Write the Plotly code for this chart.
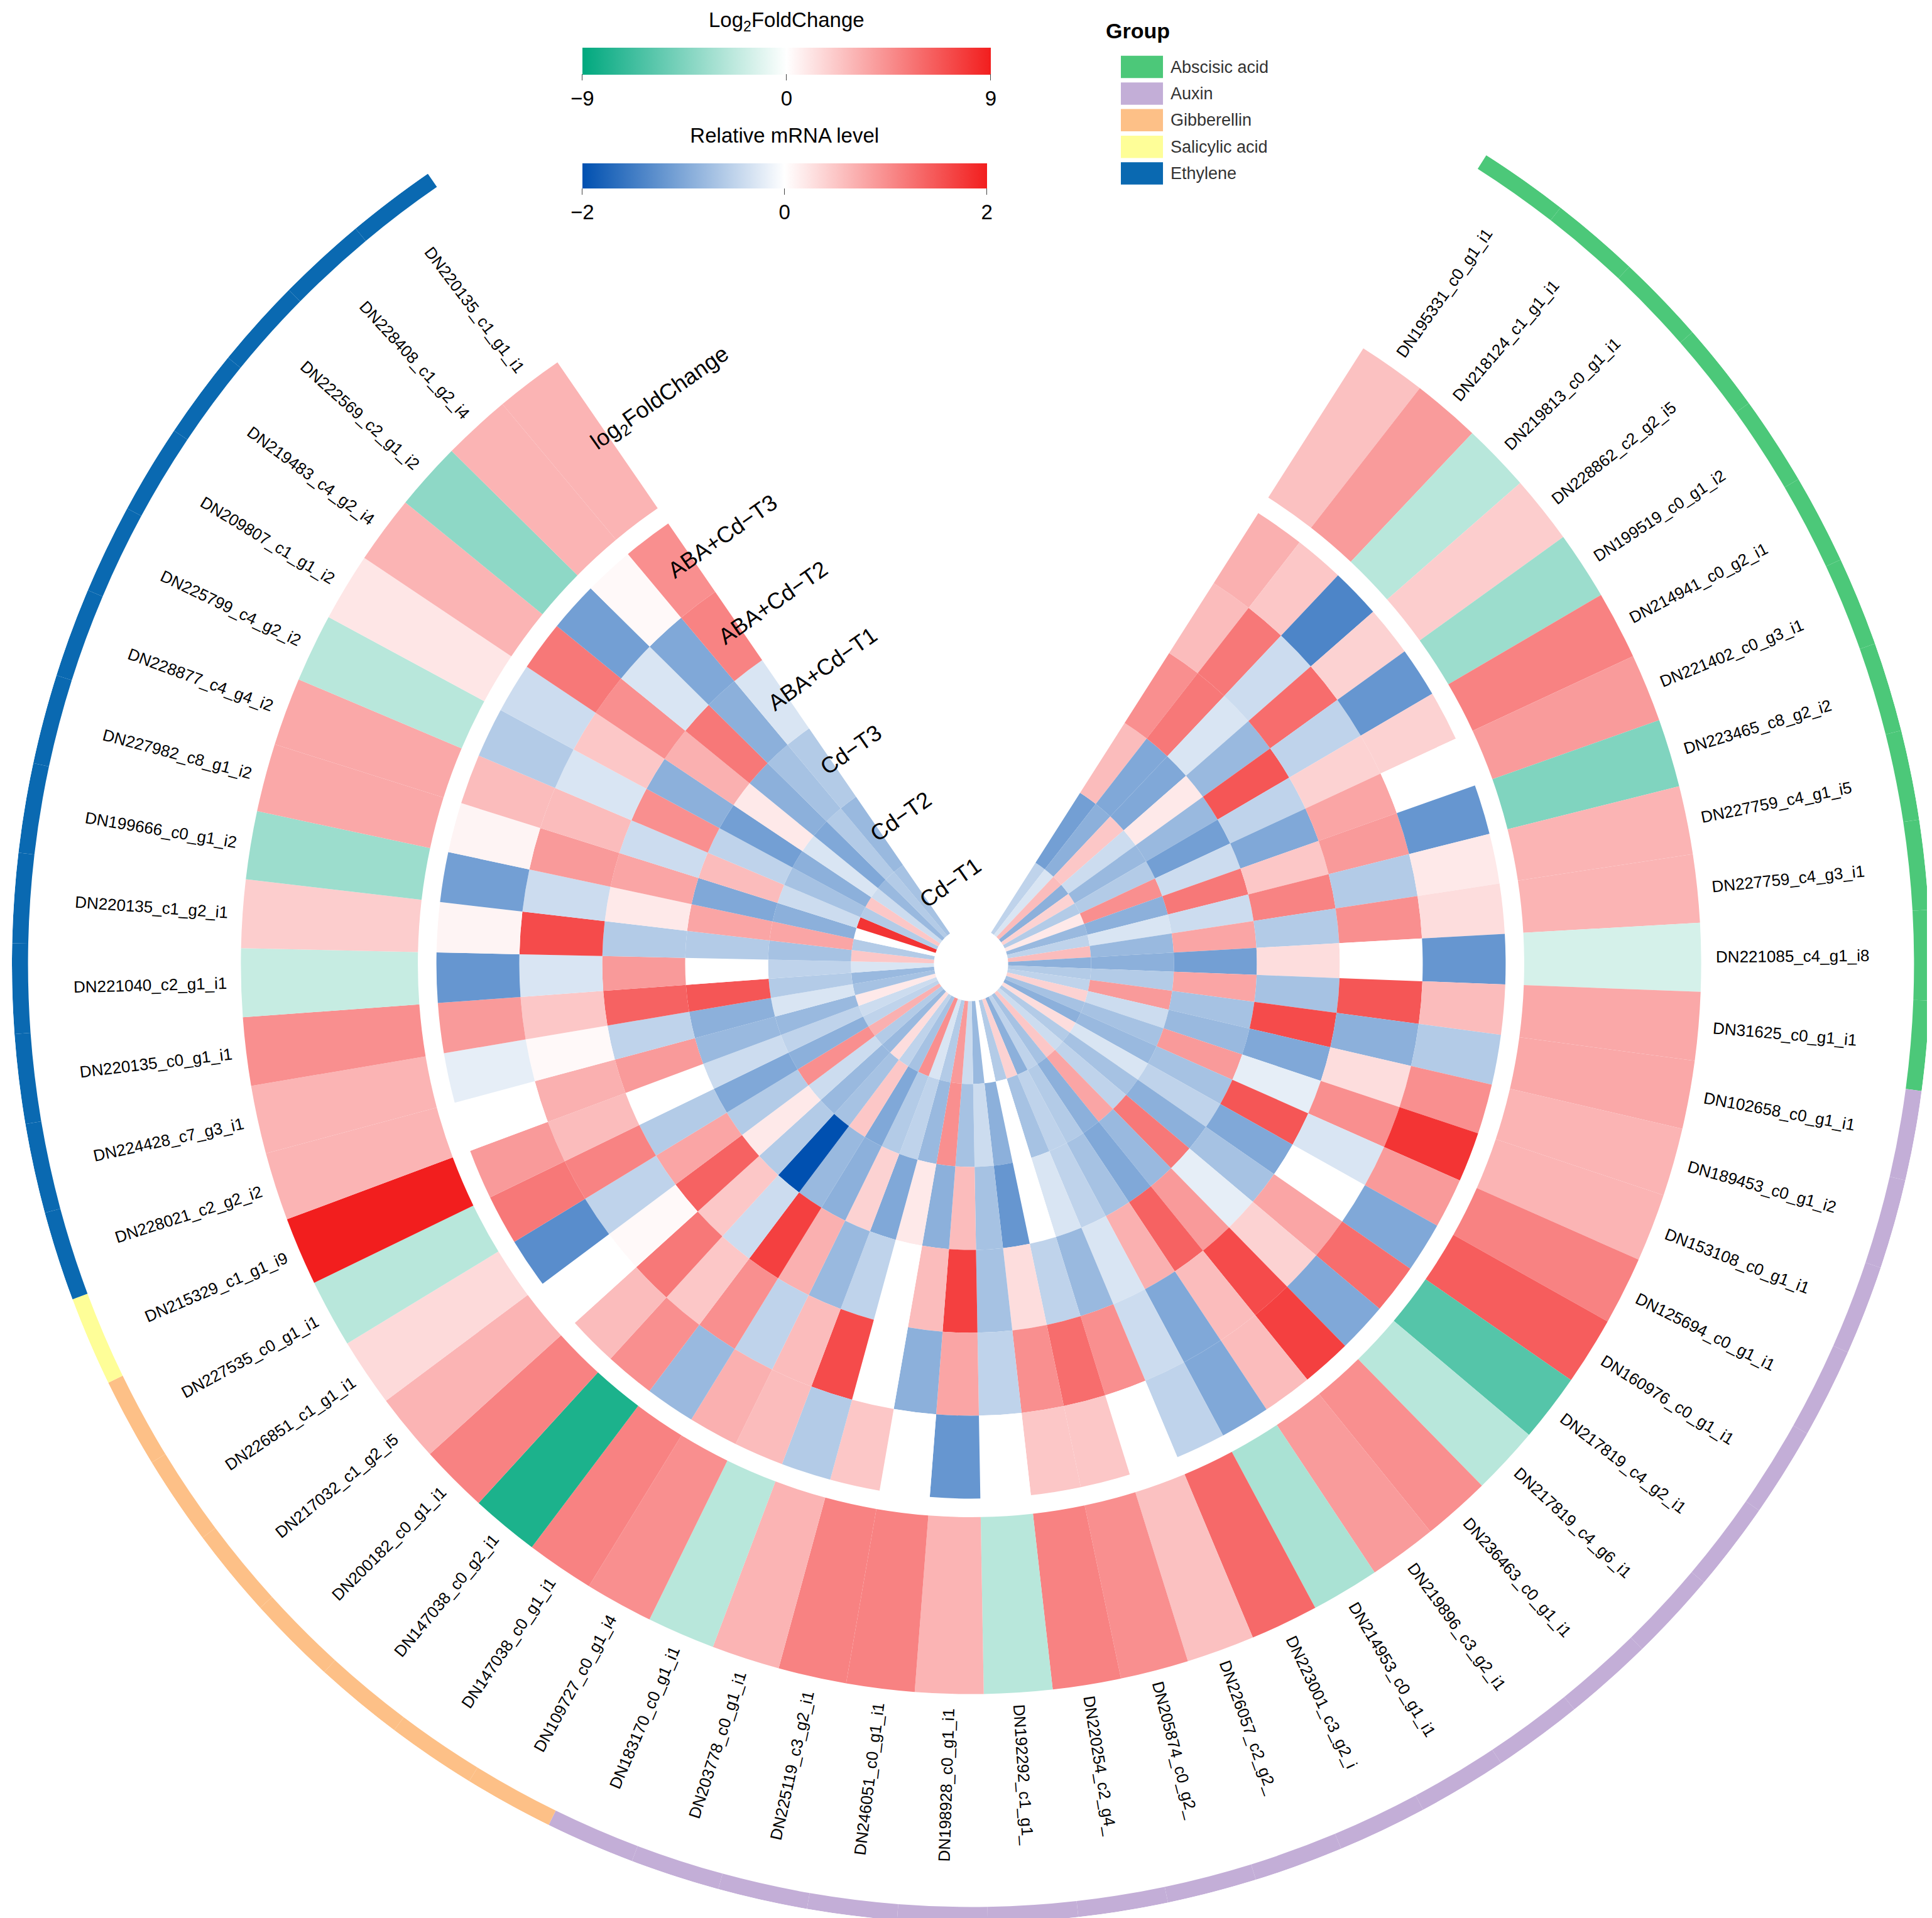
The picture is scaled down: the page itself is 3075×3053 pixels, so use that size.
import math
import plotly.graph_objects as go

genes = ["DN195331_c0_g1_i1","DN218124_c1_g1_i1","DN219813_c0_g1_i1","DN228862_c2_g2_i5","DN199519_c0_g1_i2",
 "DN214941_c0_g2_i1","DN221402_c0_g3_i1","DN223465_c8_g2_i2","DN227759_c4_g1_i5","DN227759_c4_g3_i1",
 "DN221085_c4_g1_i8","DN31625_c0_g1_i1","DN102658_c0_g1_i1","DN189453_c0_g1_i2","DN153108_c0_g1_i1",
 "DN125694_c0_g1_i1","DN160976_c0_g1_i1","DN217819_c4_g2_i1","DN217819_c4_g6_i1","DN236463_c0_g1_i1",
 "DN219896_c3_g2_i1","DN214953_c0_g1_i1","DN223001_c3_g2_i","DN226057_c2_g2_","DN205874_c0_g2_",
 "DN220254_c2_g4_","DN192292_c1_g1_","DN198928_c0_g1_i1","DN246051_c0_g1_i1","DN225119_c3_g2_i1",
 "DN203778_c0_g1_i1","DN183170_c0_g1_i1","DN109727_c0_g1_i4","DN147038_c0_g1_i1","DN147038_c0_g2_i1",
 "DN200182_c0_g1_i1","DN217032_c1_g2_i5","DN226851_c1_g1_i1","DN227535_c0_g1_i1","DN215329_c1_g1_i9",
 "DN228021_c2_g2_i2","DN224428_c7_g3_i1","DN220135_c0_g1_i1","DN221040_c2_g1_i1","DN220135_c1_g2_i1",
 "DN199666_c0_g1_i2","DN227982_c8_g1_i2","DN228877_c4_g4_i2","DN225799_c4_g2_i2","DN209807_c1_g1_i2",
 "DN219483_c4_g2_i4","DN222569_c2_g1_i2","DN228408_c1_g2_i4","DN220135_c1_g1_i1"]

group_names = ["Abscisic acid","Auxin","Gibberellin","Salicylic acid","Ethylene"]
group_sizes = [12, 20, 7, 1, 14]
group_colors = ["#4CC879","#C3AED7","#FDC087","#FEFE98","#0A69B1"]

ring_names = ["Cd\u2212T1","Cd\u2212T2","Cd\u2212T3","ABA+Cd\u2212T1","ABA+Cd\u2212T2","ABA+Cd\u2212T3"]

log2fc = [2.5,4,-2.5,2,-3.5,5,4,-4.5,3,3,-1.5,3.5,3.5,3,3,5,6.5,-6,-2.5,4.5,
          4,-3,6,2.5,4.5,5,-2.5,3,5,5,3,-2.5,4.5,5,-8,5,3,1.5,-2.5,9,
          3,3,4.5,-2,2,-3.5,3.5,3.5,-2.5,1,3,-4,3,3]

cd_t1 = [-0.5,-0.3,0.6,-0.9,0.4,-0.6,0.2,-0.8,-0.5,0.6,-0.9,-0.6,-0.5,0.4,-0.7,-0.9,0.3,-0.6,-0.4,0.5,
         -0.7,-0.5,-0.9,0.4,-0.6,0.0,-0.8,-0.4,0.9,-0.6,-0.3,1.0,-0.7,-0.5,0.3,-0.8,-0.6,0.7,-0.5,-0.4,
         0.2,-0.7,-0.8,-0.3,0.5,-0.6,0.0,1.8,-0.6,0.5,-0.4,-0.8,-0.6,-0.7]
cd_t2 = [-1.1,-0.9,0.5,-0.4,-0.8,-0.6,1.0,-0.9,-0.3,-0.8,-0.9,-0.6,0.9,-0.4,-0.7,-0.8,-0.3,-0.7,-0.5,0.8,
         -0.9,-0.6,-0.5,-0.7,0.0,-0.9,-0.4,-0.7,1.0,-0.8,-0.5,-0.6,-1.0,0.5,-0.7,-0.8,-0.4,1.0,-0.9,-0.5,
         -0.8,-0.3,-0.6,-0.5,-0.7,0.8,-0.9,-0.4,-0.7,-0.9,-0.3,-1.0,-0.6,-0.8]
cd_t3 = [0.6,-1.0,-1.0,0.2,-0.8,-1.1,-0.4,1.2,-0.4,0.8,-1.1,0.8,-0.7,-0.8,0.9,-0.7,-0.5,-0.9,1.2,-0.8,
         -1.0,-0.7,-0.5,-0.3,0.0,-1.2,-0.7,0.6,-0.9,0.2,-1.0,0.4,-0.9,-0.8,-2.0,-0.6,0.2,-0.6,-1.0,-0.4,
         -0.8,-0.9,1.5,0.0,-0.6,0.8,-1.0,0.6,-0.5,-1.1,0.2,-0.9,-0.7,-0.6]
aba_t1 = [1.0,1.2,-0.3,-0.8,1.5,-0.5,-1.0,0.5,1.1,-0.6,0.3,-0.7,1.6,-1.0,-0.2,1.5,-1.0,-0.7,-0.2,0.9,
          1.4,0.7,-0.3,-0.8,-0.5,0.3,-0.7,1.7,0.6,0.0,-0.5,-0.8,0.7,1.7,-0.4,0.5,1.4,0.8,-0.6,0.0,
          0.9,-0.5,1.4,0.9,-0.6,0.2,0.8,-0.4,1.0,-0.9,0.7,1.2,-0.9,-0.3]
aba_t2 = [0.6,1.2,-0.4,1.3,-0.5,0.4,0.8,0.9,-0.6,1.0,0.0,1.5,-0.9,0.3,1.0,-0.3,0.0,0.8,0.4,1.6,
          0.6,-1.0,-0.4,1.0,1.3,1.0,-0.5,0.8,-0.9,0.0,1.6,0.6,-0.5,1.0,0.5,1.2,0.05,-0.5,1.1,0.6,
          0.7,0.05,0.5,-0.3,1.6,-0.4,0.9,0.6,-0.3,0.5,1.0,-0.3,-1.0,1.1]
aba_t3 = [0.7,0.5,-1.4,0.4,-1.2,0.4,0.0,-1.2,0.2,0.3,-1.2,0.6,-0.6,1.0,1.8,0.9,-1.0,1.3,-1.0,1.7,
          0.6,-1.0,-0.5,0.0,0.5,0.5,0.0,-1.2,0.0,0.5,-0.6,0.6,0.7,-0.8,1.0,0.6,0.0,-1.3,1.2,0.9,
          0.0,-0.2,0.9,-1.2,0.1,-1.1,0.1,0.6,-0.6,-0.4,1.2,-1.1,0.05,1.0]
rings = [cd_t1, cd_t2, cd_t3, aba_t1, aba_t2, aba_t3]

# ---- geometry (radial units ~ display px) ----
N = len(genes)
START, END = 32.5, 325.5
W = (END - START) / N
thetas = [START + (i + 0.5) * W for i in range(N)]
R_HOLE, R_IN_OUT = 30, 432
RING_T = (R_IN_OUT - R_HOLE) / 6
FC_IN, FC_OUT = 447, 590
LAB_R = 602
GRP_IN, GRP_OUT = 762, 775

FW, FH = 3075, 3053
CX, CY = FW / 2, FH / 2
K = (FH / 2) / GRP_OUT
FS = 26

def to_paper(r, th):
    a = math.radians(th)
    return (CX + r * K * math.sin(a)) / FW, (CY + r * K * math.cos(a)) / FH

fig = go.Figure()

rel_scale = [[0, "#0050B0"], [0.5, "#FFFFFF"], [1, "#F21E1E"]]
fc_scale = [[0, "#00A87E"], [0.5, "#FFFFFF"], [1, "#F21E1E"]]

th_all, r_all, base_all, c_all = [], [], [], []
for k, vals in enumerate(rings):
    for i, v in enumerate(vals):
        th_all.append(thetas[i]); r_all.append(RING_T); base_all.append(R_HOLE + k * RING_T); c_all.append(v)
fig.add_trace(go.Barpolar(theta=th_all, r=r_all, base=base_all, width=[W] * len(th_all),
    marker=dict(color=c_all, colorscale=rel_scale, cmin=-2, cmax=2, line=dict(width=0),
        colorbar=dict(orientation="h", x=0.4035, xanchor="center", y=1 - 104 / 1549, yanchor="top",
            len=0.216, thickness=40, outlinewidth=0, ticks="outside", ticklen=10,
            tickvals=[-2, 0, 2], ticktext=["\u22122", "0", "2"], tickfont=dict(size=33, color="black"),
            title=dict(text="Relative mRNA level", side="top", font=dict(size=33, color="black")))),
    hoverinfo="skip", showlegend=False))

fig.add_trace(go.Barpolar(theta=thetas, r=[FC_OUT - FC_IN] * N, base=[FC_IN] * N, width=[W] * N,
    marker=dict(color=log2fc, colorscale=fc_scale, cmin=-9, cmax=9, line=dict(width=0),
        colorbar=dict(orientation="h", x=0.4045, xanchor="center", y=1 - 8 / 1549, yanchor="top",
            len=0.218, thickness=43, outlinewidth=0, ticks="outside", ticklen=10,
            tickvals=[-9, 0, 9], ticktext=["\u22129", "0", "9"], tickfont=dict(size=33, color="black"),
            title=dict(text="Log<sub>2</sub>FoldChange", side="top", font=dict(size=33, color="black")))),
    hoverinfo="skip", showlegend=False))

grp_col = []
for c, n in zip(group_colors, group_sizes):
    grp_col += [c] * n
fig.add_trace(go.Barpolar(theta=thetas, r=[GRP_OUT - GRP_IN] * N, base=[GRP_IN] * N, width=[W] * N,
    marker=dict(color=grp_col, line=dict(width=0)), hoverinfo="skip", showlegend=False))

anns = []
for g, th in zip(genes, thetas):
    w = len(g) * 0.55 * FS / K
    x, y = to_paper(LAB_R + w / 2, th)
    ang = th - 90 if th < 180 else th - 270
    anns.append(dict(x=x, y=y, xref="paper", yref="paper", text=g, showarrow=False, textangle=ang,
                     xanchor="center", yanchor="middle", font=dict(size=FS, color="black", family="Arial")))

ring_lab_r = [R_HOLE + (k + 0.5) * RING_T for k in range(6)] + [(FC_IN + FC_OUT) / 2]
ring_lab_t = ring_names + ["log<sub>2</sub>FoldChange"]
for r, t in zip(ring_lab_r, ring_lab_t):
    sx, sy = to_paper(r, -37)
    nch = len(t.replace("<sub>", "").replace("</sub>", ""))
    wpx = nch * 0.58 * 36
    a = math.radians(35)
    x = sx + (wpx / 2) * math.cos(a) / FW
    y = sy + (wpx / 2) * math.sin(a) / FH
    anns.append(dict(x=x, y=y, xref="paper", yref="paper", text=t, showarrow=False, textangle=-35,
                     xanchor="center", yanchor="middle", font=dict(size=36, color="black", family="Arial")))

# legend
anns.append(dict(x=888 / 1560, y=1 - 21 / 1549, xref="paper", yref="paper", text="<b>Group</b>", showarrow=False,
                 xanchor="left", yanchor="middle", font=dict(size=34, color="black", family="Arial")))
shapes = []
for i, (nm, c) in enumerate(zip(group_names, group_colors)):
    yc = 50 + i * 21.5
    shapes.append(dict(type="rect", xref="paper", yref="paper", x0=901 / 1560, x1=935 / 1560,
                       y0=1 - (yc + 9) / 1549, y1=1 - (yc - 9) / 1549, fillcolor=c, line=dict(width=0)))
    anns.append(dict(x=940 / 1560, y=1 - yc / 1549, xref="paper", yref="paper", text=nm, showarrow=False,
                     xanchor="left", yanchor="middle", font=dict(size=27, color="#333333", family="Arial")))

fig.update_layout(
    width=FW, height=FH, margin=dict(l=0, r=0, t=0, b=0), paper_bgcolor="white", plot_bgcolor="white",
    polar=dict(domain=dict(x=[0, 1], y=[0, 1]), bgcolor="white", bargap=0,
               radialaxis=dict(visible=False, range=[0, GRP_OUT]),
               angularaxis=dict(visible=False, rotation=90, direction="clockwise")),
    annotations=anns, shapes=shapes, font=dict(family="Arial"))

fig.write_html("out.html")
